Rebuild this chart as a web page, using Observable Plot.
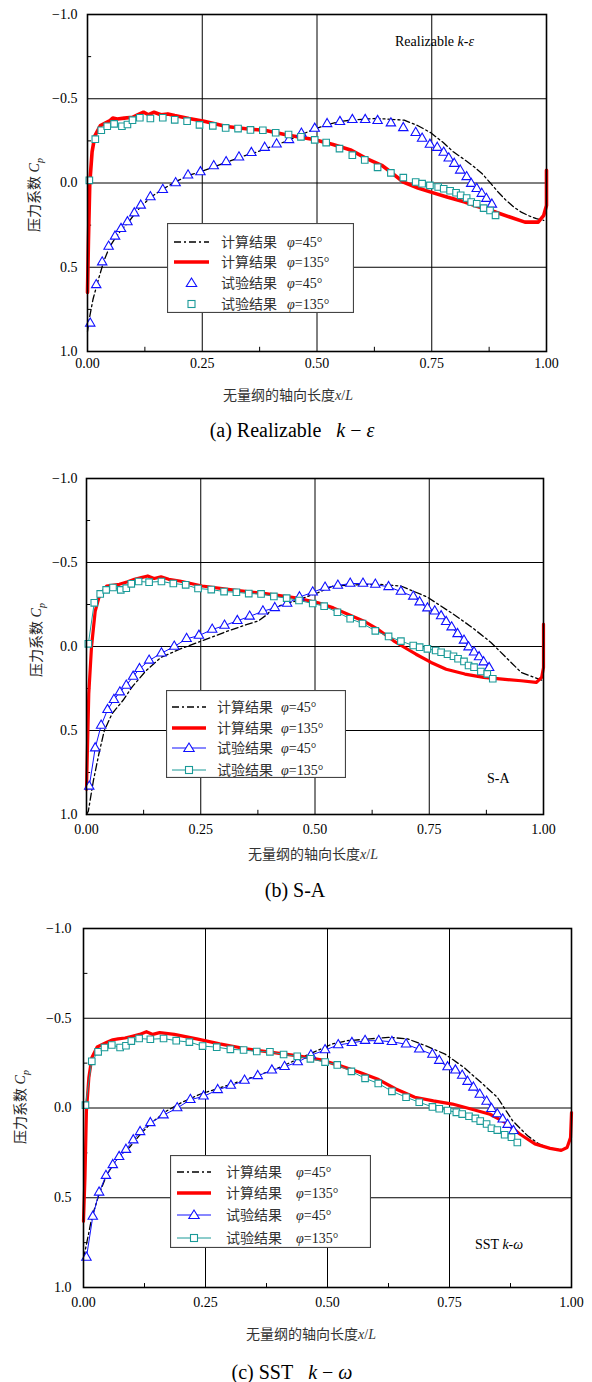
<!DOCTYPE html>
<html><head><meta charset="utf-8">
<script src="https://cdn.jsdelivr.net/npm/d3@7"></script>
<script src="https://cdn.jsdelivr.net/npm/@observablehq/plot@0.6"></script>
<style>
body{margin:0;background:#fff;}
#wrap{position:relative;width:592px;height:1382px;overflow:hidden;font-family:"Liberation Serif","DejaVu Serif",serif;color:#000;}
.abs{position:absolute;white-space:nowrap;}
.cjk{font-family:"Noto Sans CJK SC","Noto Sans",sans-serif;}
</style></head><body><div id="wrap"></div>
<script>
// ---- experimental data (same in all panels) ----
const xExp45 = [0.006,0.019,0.032,0.046,0.060,0.073,0.087,0.102,0.116,0.137,0.164,0.192,0.219,0.246,0.275,0.302,0.330,0.357,0.386,0.412,0.439,0.466,0.495,0.522,0.550,0.577,0.605,0.632,0.661,0.688,0.715,0.729,0.746,0.762,0.776,0.787,0.799,0.812,0.826,0.836,0.848,0.859,0.869,0.881];
const cpExp45 = [0.833,0.605,0.470,0.377,0.317,0.272,0.232,0.179,0.133,0.083,0.040,0.000,-0.046,-0.065,-0.101,-0.125,-0.153,-0.179,-0.210,-0.230,-0.256,-0.294,-0.323,-0.351,-0.363,-0.375,-0.375,-0.369,-0.355,-0.327,-0.298,-0.264,-0.228,-0.210,-0.181,-0.147,-0.115,-0.075,-0.036,0.004,0.034,0.063,0.093,0.127];
const xExp135 = [0.004,0.017,0.030,0.043,0.058,0.075,0.087,0.098,0.114,0.137,0.164,0.190,0.217,0.244,0.273,0.301,0.328,0.355,0.382,0.410,0.438,0.465,0.495,0.520,0.549,0.577,0.604,0.632,0.661,0.688,0.715,0.729,0.746,0.764,0.776,0.790,0.803,0.813,0.826,0.836,0.848,0.863,0.877,0.889];
const cpExp135 = [-0.016,-0.260,-0.313,-0.337,-0.351,-0.337,-0.347,-0.373,-0.387,-0.383,-0.387,-0.375,-0.367,-0.345,-0.339,-0.327,-0.323,-0.315,-0.313,-0.298,-0.288,-0.274,-0.256,-0.240,-0.204,-0.165,-0.137,-0.093,-0.060,-0.032,-0.006,0.004,0.014,0.024,0.034,0.046,0.058,0.073,0.089,0.113,0.123,0.149,0.163,0.192];

// ---- computed results: Realizable k-epsilon ----
const rkeX45 = [0.000,0.005,0.012,0.024,0.036,0.048,0.062,0.075,0.090,0.105,0.120,0.140,0.165,0.190,0.220,0.250,0.280,0.310,0.340,0.370,0.400,0.430,0.460,0.490,0.520,0.550,0.580,0.610,0.632,0.660,0.690,0.720,0.748,0.775,0.797,0.818,0.838,0.860,0.879,0.895,0.912,0.930,0.945,0.962,0.978,0.994];
const rkeCp45 = [0.88,0.79,0.69,0.57,0.46,0.38,0.32,0.275,0.23,0.175,0.13,0.08,0.035,-0.005,-0.045,-0.07,-0.10,-0.13,-0.16,-0.185,-0.215,-0.245,-0.28,-0.315,-0.345,-0.365,-0.375,-0.38,-0.383,-0.378,-0.373,-0.34,-0.298,-0.24,-0.185,-0.145,-0.105,-0.055,0.004,0.055,0.103,0.145,0.173,0.195,0.212,0.222];
const rkeX135 = [0.000,0.002,0.005,0.010,0.016,0.028,0.049,0.055,0.065,0.080,0.098,0.110,0.122,0.133,0.145,0.160,0.175,0.190,0.221,0.254,0.303,0.350,0.386,0.435,0.493,0.535,0.575,0.608,0.641,0.665,0.688,0.720,0.748,0.785,0.822,0.850,0.879,0.920,0.953,0.982,0.994,1.000,1.000];
const rkeCp135 = [0.65,0.35,0.0,-0.185,-0.28,-0.34,-0.37,-0.385,-0.38,-0.385,-0.39,-0.405,-0.42,-0.405,-0.42,-0.405,-0.41,-0.40,-0.383,-0.367,-0.335,-0.32,-0.313,-0.285,-0.258,-0.228,-0.194,-0.145,-0.105,-0.056,-0.006,0.03,0.054,0.085,0.113,0.14,0.163,0.202,0.232,0.232,0.192,0.133,-0.075];

// ---- computed results: S-A ----
const saX45 = [0.000,0.004,0.015,0.027,0.039,0.056,0.080,0.100,0.130,0.163,0.204,0.253,0.310,0.350,0.376,0.395,0.409,0.458,0.507,0.540,0.573,0.639,0.688,0.745,0.803,0.844,0.885,0.918,0.951,0.984,0.996];
const saCp45 = [1.0,0.98,0.80,0.64,0.50,0.40,0.32,0.24,0.145,0.065,0.016,-0.034,-0.093,-0.13,-0.152,-0.19,-0.232,-0.271,-0.321,-0.36,-0.366,-0.37,-0.36,-0.295,-0.192,-0.113,-0.024,0.065,0.154,0.188,0.2];
const saX135 = [0.000,0.005,0.011,0.019,0.027,0.044,0.072,0.090,0.105,0.120,0.134,0.148,0.163,0.180,0.204,0.253,0.310,0.392,0.458,0.507,0.540,0.573,0.606,0.639,0.672,0.696,0.721,0.754,0.787,0.828,0.869,0.910,0.951,0.984,0.996,1.000,1.000];
const saCp135 = [0.85,0.28,0.0,-0.21,-0.29,-0.36,-0.37,-0.385,-0.40,-0.41,-0.42,-0.405,-0.415,-0.40,-0.39,-0.36,-0.34,-0.315,-0.29,-0.26,-0.23,-0.19,-0.152,-0.10,-0.034,0.006,0.046,0.095,0.135,0.164,0.184,0.194,0.204,0.214,0.184,0.125,-0.133];

// ---- computed results: SST k-omega ----
const sstX45 = [0.000,0.003,0.009,0.017,0.032,0.048,0.071,0.094,0.117,0.140,0.171,0.202,0.240,0.294,0.356,0.402,0.440,0.479,0.510,0.540,0.587,0.625,0.664,0.702,0.741,0.779,0.818,0.848,0.879,0.910,0.933,0.956,0.979];
const sstCp45 = [0.84,0.80,0.72,0.61,0.48,0.37,0.275,0.22,0.145,0.08,0.015,-0.032,-0.078,-0.125,-0.18,-0.227,-0.273,-0.32,-0.357,-0.375,-0.385,-0.394,-0.385,-0.346,-0.30,-0.227,-0.134,-0.06,0.07,0.155,0.20,0.225,0.23];
const sstX135 = [0.000,0.003,0.006,0.011,0.017,0.028,0.048,0.060,0.071,0.085,0.100,0.115,0.129,0.142,0.156,0.186,0.232,0.279,0.333,0.386,0.440,0.487,0.525,0.564,0.602,0.640,0.679,0.717,0.756,0.794,0.833,0.864,0.894,0.925,0.956,0.979,0.991,0.998,1.000];
const sstCp135 = [0.63,0.39,0.017,-0.17,-0.28,-0.34,-0.366,-0.38,-0.385,-0.39,-0.40,-0.41,-0.425,-0.41,-0.42,-0.41,-0.385,-0.357,-0.33,-0.31,-0.29,-0.268,-0.236,-0.20,-0.162,-0.106,-0.06,-0.04,-0.022,0.006,0.035,0.08,0.145,0.20,0.225,0.236,0.22,0.165,0.025];

// ---- ticks ----
const xMajor = [0, 0.25, 0.5, 0.75, 1];
const yMajor = [-1, -0.5, 0, 0.5, 1];
const xGrid = [0.25, 0.5, 0.75];
const yGrid = [-0.5, 0, 0.5];
const xMinor = [0.125, 0.375, 0.625, 0.875];
const yMinor = [-0.75, -0.25, 0.25, 0.75];

const legendLabels = ["计算结果", "计算结果", "试验结果", "试验结果"];
const legendAngles = ["45°", "135°", "45°", "135°"];

const BLUE = "#1010ff", TEAL = "#1a9a98", RED = "#ff0000";
const SERIF = "'Liberation Serif','DejaVu Serif',serif";
const zip = (xs, ys) => xs.map((x, i) => ({x, y: ys[i]}));
const wrap = document.getElementById("wrap");

function addDiv(html, style, cls) {
  const d = document.createElement("div");
  d.className = "abs " + (cls || "");
  d.innerHTML = html;
  Object.assign(d.style, style);
  wrap.appendChild(d);
  return d;
}

function panel(c) {
  const e45 = zip(xExp45, cpExp45), e135 = zip(xExp135, cpExp135);
  const c45 = zip(c.x45, c.cp45), c135 = zip(c.x135, c.cp135);
  const marks = [
    Plot.gridX(xGrid, {stroke: "#000", strokeOpacity: 1, strokeWidth: 1}),
    Plot.gridY(yGrid, {stroke: "#000", strokeOpacity: 1, strokeWidth: 1}),
    Plot.ruleX(xMinor, {y1: () => 1, y2: () => 1 - c.minorY, stroke: "#000", strokeWidth: 1}),
    Plot.ruleY(yMinor, {x1: () => 0, x2: () => 0.009, stroke: "#000", strokeWidth: 1}),
    Plot.axisX(xMajor, {tickSize: 0, tickPadding: c.xPad, tickFormat: d3.format(".2f"), label: null, fontFamily: SERIF}),
    Plot.axisY(yMajor, {tickSize: 0, tickPadding: c.yPad, tickFormat: d3.format(".1f"), label: null, fontFamily: SERIF}),
    Plot.line(c45, {x: "x", y: "y", stroke: "#000", strokeWidth: 1.3, strokeDasharray: "7,3,2,3"}),
    Plot.line(c135, {x: "x", y: "y", stroke: RED, strokeWidth: c.redW, curve: "linear"})
  ];
  if (c.expLines) {
    marks.push(Plot.line(e45, {x: "x", y: "y", stroke: BLUE, strokeWidth: 1}));
  }
  marks.push(Plot.dot(e45, {x: "x", y: "y", symbol: "triangle", r: 3.5, stroke: BLUE, fill: "#fff", strokeWidth: 1.1}));
  if (c.expLines) {
    marks.push(Plot.line(e135, {x: "x", y: "y", stroke: TEAL, strokeWidth: 1}));
  }
  marks.push(Plot.dot(e135, {x: "x", y: "y", symbol: "square", r: 3.7, stroke: TEAL, fill: "#fff", strokeWidth: 1.1}));
  marks.push(Plot.frame({stroke: "#000", strokeWidth: 1.6}));

  const p = Plot.plot({
    width: 592, height: c.h,
    marginLeft: c.ml, marginRight: c.mr, marginTop: c.mt, marginBottom: c.mb,
    x: {domain: [0, 1]},
    y: {domain: [-1, 1], reverse: true},
    style: {fontSize: "14px", fontFamily: SERIF, color: "#000", background: "transparent"},
    marks
  });
  const holder = addDiv("", {left: "0px", top: c.top + "px"});
  holder.appendChild(p);

  // y-axis title
  addDiv('<span class="cjk">压力系数</span> <i>C</i><sub style="font-size:10px"><i>p</i></sub>',
    {left: c.yt[0] + "px", top: c.yt[1] + "px", fontSize: "14px", transform: "translate(-50%,-50%) rotate(-90deg)", color: "#222"});
  // x-axis title
  addDiv('<span class="cjk">无量纲的轴向长度</span><i>x</i>/<i>L</i>',
    {left: c.xt[0] + "px", top: c.xt[1] + "px", fontSize: "14px", transform: "translate(-50%,-50%)", color: "#333"});
  // caption
  addDiv(c.caption, {left: c.cap[0] + "px", top: c.cap[1] + "px", fontSize: "20px", transform: "translate(-50%,-50%)"});
  // model annotation
  addDiv(c.note, {left: c.noteP[0] + "px", top: (c.noteP[1] - 8) + "px", fontSize: "14px", lineHeight: "16px"});

  // legend
  const L = c.leg;
  let s = `<svg width="${L.w}" height="${L.h}" xmlns="http://www.w3.org/2000/svg" style="display:block">
    <rect x="0.5" y="0.5" width="${L.w - 1}" height="${L.h - 1}" fill="#fff" stroke="#444" stroke-width="1.2"/>`;
  const mid = (L.s0 + L.s1) / 2;
  L.rows.forEach((ry, i) => {
    if (i === 0) s += `<line x1="${L.s0}" x2="${L.s1}" y1="${ry}" y2="${ry}" stroke="#000" stroke-width="1.3" stroke-dasharray="7,3,2,3"/>`;
    if (i === 1) s += `<line x1="${L.s0}" x2="${L.s1}" y1="${ry}" y2="${ry}" stroke="${RED}" stroke-width="3.5"/>`;
    if (i === 2) {
      if (c.expLines) s += `<line x1="${L.s0}" x2="${L.s1}" y1="${ry}" y2="${ry}" stroke="${BLUE}" stroke-width="1"/>`;
      s += `<path d="M${mid},${ry - 5} L${mid + 5.2},${ry + 3.5} L${mid - 5.2},${ry + 3.5} Z" fill="#fff" stroke="${BLUE}" stroke-width="1.1"/>`;
    }
    if (i === 3) {
      if (c.expLines) s += `<line x1="${L.s0}" x2="${L.s1}" y1="${ry}" y2="${ry}" stroke="${TEAL}" stroke-width="1"/>`;
      s += `<rect x="${mid - 3.5}" y="${ry - 3.5}" width="7" height="7" fill="#fff" stroke="${TEAL}" stroke-width="1.1"/>`;
    }
    s += `<text x="${L.t}" y="${ry}" dy="0.35em" font-size="14" fill="#333" font-family="'Noto Sans CJK SC',sans-serif">${legendLabels[i]}</text>`;
    s += `<text x="${L.phi}" y="${ry}" dy="0.35em" font-size="14" fill="#222" font-family="${SERIF}"><tspan font-style="italic">φ</tspan>=${legendAngles[i]}</text>`;
  });
  s += "</svg>";
  addDiv(s, {left: L.x + "px", top: L.y + "px"});
}

panel({
  top: 0, h: 380, ml: 87, mr: 46, mt: 14, mb: 29, xPad: 7, yPad: 10, minorY: 0.025,
  x45: rkeX45, cp45: rkeCp45, x135: rkeX135, cp135: rkeCp135, redW: 3.6, expLines: false,
  yt: [34, 195], xt: [288, 394], cap: [292, 430],
  caption: '(a) Realizable&nbsp;&nbsp; <i>k</i> − <i>ε</i>',
  note: 'Realizable <i>k</i>-<i>ε</i>', noteP: [395, 42],
  leg: {x: 167, y: 223, w: 187, h: 90, rows: [19, 39, 60, 81], s0: 7, s1: 42, t: 54, phi: 120}
});
panel({
  top: 464, h: 380, ml: 86, mr: 49, mt: 14, mb: 30, xPad: 10, yPad: 9, minorY: 0.025,
  x45: saX45, cp45: saCp45, x135: saX135, cp135: saCp135, redW: 3.2, expLines: true,
  yt: [36, 640], xt: [313, 853], cap: [295, 890],
  caption: '(b) S-A',
  note: 'S-A', noteP: [487, 779],
  leg: {x: 166, y: 690, w: 180, h: 88, rows: [17, 38, 58, 80], s0: 6, s1: 40, t: 51, phi: 115}
});
panel({
  top: 914, h: 400, ml: 83, mr: 21, mt: 14, mb: 27, xPad: 10, yPad: 12, minorY: 0.022,
  x45: sstX45, cp45: sstCp45, x135: sstX135, cp135: sstCp135, redW: 3.2, expLines: true,
  yt: [20, 1107], xt: [311, 1333], cap: [292, 1372],
  caption: '(c) SST&nbsp;&nbsp; <i>k</i> − <i>ω</i>',
  note: 'SST <i>k</i>-<i>ω</i>', noteP: [475, 1245],
  leg: {x: 170, y: 1155, w: 201, h: 93, rows: [17, 38, 60, 83], s0: 7, s1: 41, t: 56, phi: 126}
});
</script></body></html>
